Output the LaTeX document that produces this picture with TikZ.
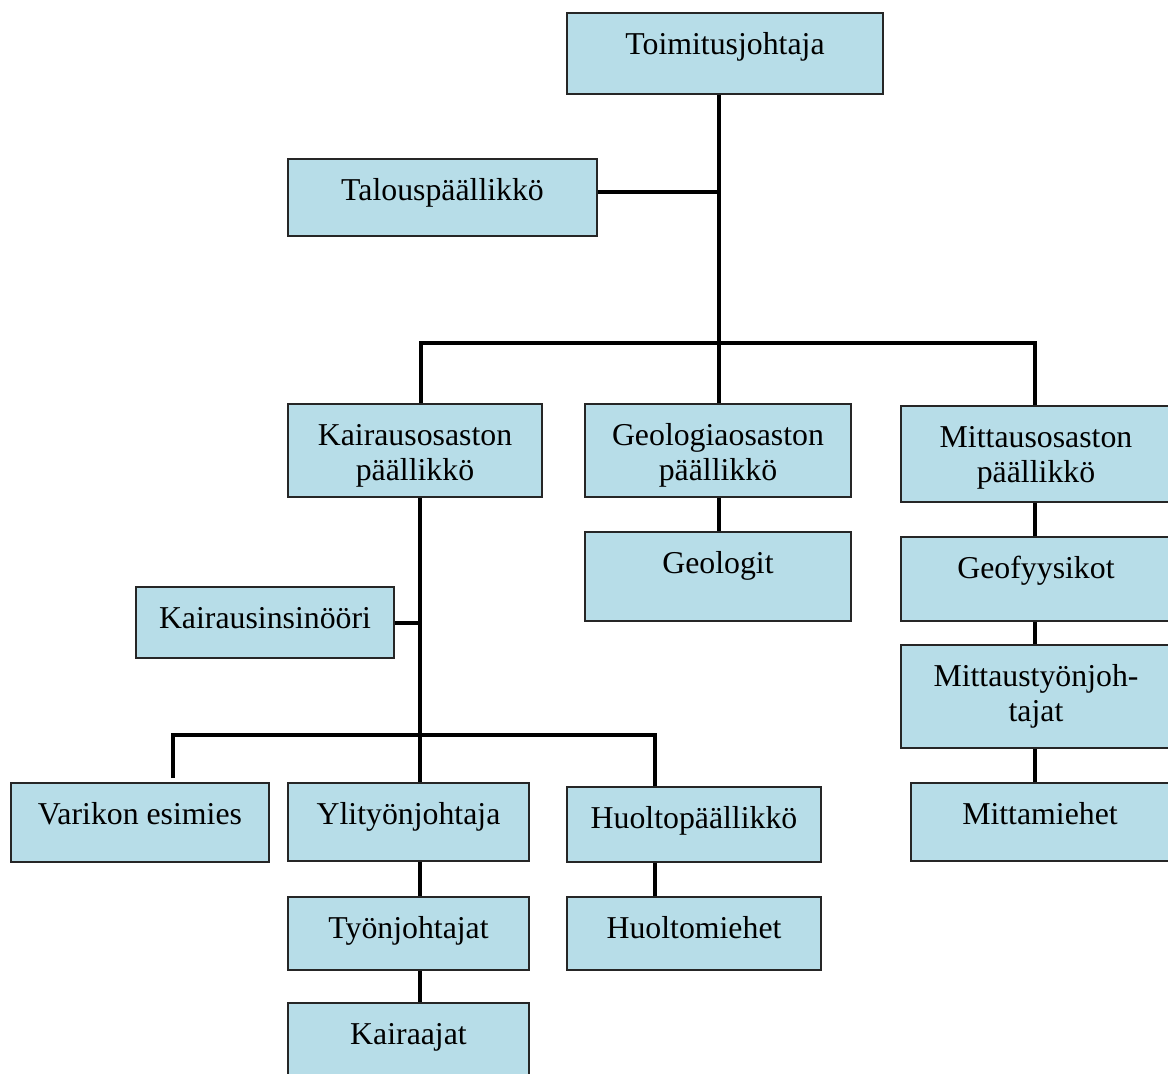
\documentclass[tikz,border=0pt]{standalone}
\usepackage{fontspec}
\setmainfont{Liberation Serif}
\usetikzlibrary{calc}
\definecolor{boxblue}{RGB}{183,221,232}

% One organisational unit: name, left, top, right, bottom, caption
\newcommand\orgunit[6]{%
  \node[orgbox, minimum width={(#4-#2)*0.5pt}, minimum height={(#5-#3)*0.5pt}]
    (#1) at ({(#2+#4)/2},{(#3+#5)/2}) {};
  \node[caption] (#1-text) at ({(#2+#4)/2},{#3+41})
    {\begin{tabular}[t]{@{}c@{}}#6\end{tabular}};}

\begin{document}
\begin{tikzpicture}[x=0.5pt,y=-0.5pt,
  orgbox/.style={rectangle, draw=black!85, fill=boxblue, line width=0.8pt, inner sep=0pt},
  caption/.style={anchor=base, inner sep=0pt, font=\fontsize{15.9}{17.6}\selectfont},
  link/.style={line width=2pt, line join=miter}]
\useasboundingbox (0,0) rectangle (1168,1073);

% management
\orgunit{toim}{567}{13}{883}{94}{Toimitusjohtaja}
\orgunit{talous}{288}{159}{597}{236}{Talouspäällikkö}

% departments
\orgunit{kp}{288}{404}{542}{497}{Kairausosaston\\päällikkö}
\orgunit{geo}{585}{404}{851}{497}{Geologiaosaston\\päällikkö}
\orgunit{mp}{901}{406}{1171}{502}{Mittausosaston\\päällikkö}

% geology and survey staff
\orgunit{geologit}{585}{532}{851}{621}{Geologit}
\orgunit{geof}{901}{537}{1171}{621}{Geofyysikot}
\orgunit{mtj}{901}{645}{1171}{748}{Mittaustyönjoh-\\tajat}
\orgunit{mm}{911}{783}{1169}{861}{Mittamiehet}

% drilling department
\orgunit{insin}{136}{587}{394}{658}{Kairausinsinööri}
\orgunit{varikko}{11}{783}{269}{862}{Varikon esimies}
\orgunit{yli}{288}{783}{529}{861}{Ylityönjohtaja}
\orgunit{huolto}{567}{787}{821}{862}{Huoltopäällikkö}
\orgunit{tyon}{288}{897}{529}{970}{Työnjohtajat}
\orgunit{huoltom}{567}{897}{821}{970}{Huoltomiehet}
\orgunit{kair}{288}{1003}{529}{1080}{Kairaajat}

% junction points of the connector lines
\coordinate (busMid) at (719,343);
\coordinate (busA) at (421,343);
\coordinate (busB) at (1035,343);
\coordinate (kspine) at (420,735);
\coordinate (busC) at (173,735);
\coordinate (busD) at (655,735);
\coordinate (varikkoTip) at (173,778);
\coordinate (talousLink) at ($(talous.east)+(0,-6)$);

% top level
\draw[link] (toim.south -| busMid) -- (geo.north -| busMid);
\draw[link] (talousLink) -- (talousLink -| busMid);
\draw[link] (kp.north -| busA) -- (busA) -- (busB) -- (mp.north -| busB);

% drilling department
\draw[link] (kp.south -| kspine) -- (yli.north -| kspine);
\draw[link] (insin.east) -- (insin.east -| kspine);
\draw[link] (varikkoTip) -- (busC) -- (busD) -- (huolto.north -| busD);
\draw[link] (yli.south -| kspine) -- (tyon.north -| kspine);
\draw[link] (tyon.south -| kspine) -- (kair.north -| kspine);
\draw[link] (huolto.south -| busD) -- (huoltom.north -| busD);

% geology and survey departments
\draw[link] (geo.south -| busMid) -- (geologit.north -| busMid);
\draw[link] (mp.south -| busB) -- (geof.north -| busB);
\draw[link] (geof.south -| busB) -- (mtj.north -| busB);
\draw[link] (mtj.south -| busB) -- (mm.north -| busB);
\end{tikzpicture}
\end{document}
